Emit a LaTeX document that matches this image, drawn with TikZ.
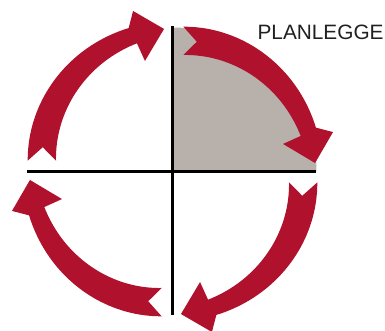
\documentclass[tikz,border=0pt]{standalone}
\usepackage{fontspec}
\newfontfamily\labelfont{Liberation Sans}
\definecolor{arrowred}{RGB}{176,18,45}
\definecolor{quadgray}{RGB}{184,176,171}
\definecolor{textgray}{RGB}{35,31,32}
\begin{document}
\begin{tikzpicture}[x=0.75pt,y=0.75pt,
    axis/.style={line width=2pt,black},
    cyclearrow/.style={fill=arrowred}]
  \useasboundingbox (-172.5,-159.5) rectangle (212.5,171.5);
  % Shaded first quadrant (radius ~144)
  \fill[quadgray] (0,0) -- (0,144) arc[start angle=90,end angle=0,radius=144] -- cycle;
  % Cross through the centre
  \draw[axis] (-145,0) -- (143,0);
  \draw[axis] (0,145) -- (0,-143.5);
  % Four curved arrows, clockwise, one per quadrant
  \foreach \rot in {0,-90,-180,-270}{
    \begin{scope}[rotate=\rot]
      \fill[cyclearrow] plot[domain=85.7:17,samples=40] (\x:{150-4.8*((\x-17)/68.7)^3})
        -- (13.8:165.3) -- (3.4:142.8) -- (14:113.9) -- (15.5:133)
        -- plot[domain=15.5:84.7,samples=40] (\x:{117+16*(84.7-\x)/69.2})
        -- (79.4:132) -- cycle;
    \end{scope}
  }
  % Label of the shaded quadrant
  \node[font=\labelfont\fontsize{15.6}{18}\selectfont, text=textgray,
        anchor=base west, inner sep=0pt] (planlegge) at (84.8,131.5) {PLANLEGGE};
\end{tikzpicture}
\end{document}
